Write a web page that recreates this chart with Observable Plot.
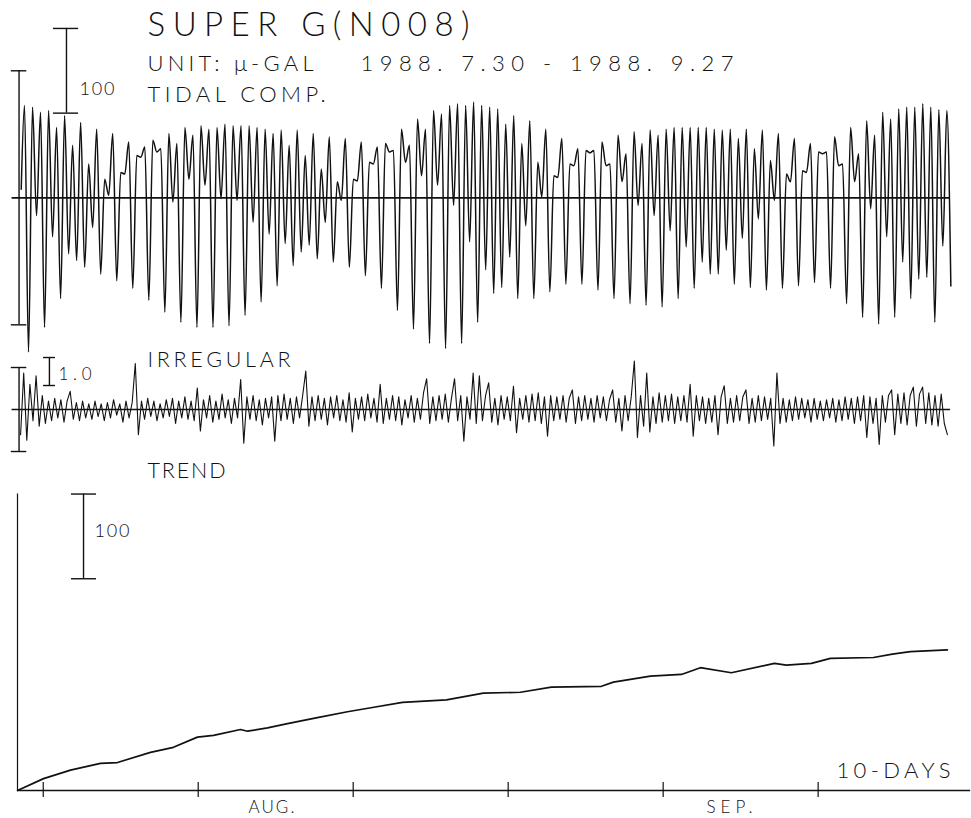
<!DOCTYPE html>
<html>
<head>
<meta charset="utf-8">
<script src="https://cdn.jsdelivr.net/npm/d3@7"></script>
<script src="https://cdn.jsdelivr.net/npm/@observablehq/plot@0.6"></script>
<style>
html, body { margin: 0; padding: 0; background: #fff; }
#chart { position: relative; width: 971px; height: 818px; overflow: hidden; background: #fff; }
#chart svg { position: absolute; left: 0; }
</style>
</head>
<body>
<div id="chart"></div>
<script>
// ---------- DATA ----------
// Tidal component: successive high (peak) and low (trough) values, one pair per semidiurnal cycle (µGal)
const tidePeaks = [
  109, 107, 101, 103, 83, 97, 62, 89, 40, 81,
  22, 76, 30, 66, 50, 60, 68, 58, 76, 64,
  83, 74, 85, 81, 83, 87, 85, 85, 85, 83,
  81, 76, 80, 62, 80, 50, 76, 34, 72, 19,
  70, 22, 66, 42, 60, 64, 56, 81, 62, 93,
  81, 103, 99, 109, 111, 109, 113, 109, 107, 105,
  87, 97, 64, 91, 42, 81, 26, 70, 40, 58,
  56, 56, 66, 40, 74, 52, 78, 64, 80, 74,
  81, 83, 83, 83, 83, 83, 81, 80, 81, 70,
  81, 58, 80, 44, 76, 28, 70, 32, 64, 54,
  54, 72, 40, 83, 52, 91, 74, 101, 93, 105,
  107, 107, 111, 107, 104, 103
];
const tideTroughs = [
  -182, -21, -153, -46, -119, -66, -74, -82, -35, -90,
  3, -98, 28, -107, 48, -121, 54, -135, -5, -147,
  22, -153, 15, -153, -1, -151, -3, -139, -29, -123,
  -43, -104, -54, -80, -64, -56, -72, -29, -76, -3,
  -82, 20, -92, 40, -107, 54, -133, 42, -155, 26,
  -172, 15, -178, -9, -172, -52, -147, -85, -113, -106,
  -70, -119, -33, -119, 1, -111, 24, -102, 38, -102,
  53, -109, 38, -119, 19, -125, -9, -127, -21, -129,
  -39, -119, -58, -107, -76, -90, -90, -62, -102, -48,
  -106, -25, -109, -3, -107, 19, -104, 30, -100, 52,
  -107, 38, -125, 19, -141, -13, -149, -46, -141, -76,
  -119, -96, -94, -147, -57, -104
];
const tideStartValue = 10;

// Irregular component (µGal), one value every 0.2 day
const irregularValues = [
  -0.9, 1.3, -1.1, 0.9, -0.4, 1.2, -0.6, 0.5, -0.5, 0.3, -0.4, 0.4, -0.3, 0.35, -0.45, 0.3, 0.65, -0.35, 0.25, -0.4,
  0.3, -0.3, 0.2, -0.35, 0.3, -0.25, 0.2, -0.4, 0.25, -0.3, 0.35, -0.2, 0.2, -0.45, 0.3, -0.3, 0.25, 1.64, -0.9, 0.3,
  -0.35, 0.4, -0.25, 0.3, -0.4, 0.2, -0.3, 0.35, -0.25, 0.4, -0.5, 0.3, -0.3, 0.45, -0.35, 0.3, -0.4, 0.77, -0.77, 0.35,
  -0.3, 0.5, -0.45, 0.3, -0.35, 0.55, -0.3, 0.35, -0.5, 0.4, -0.3, 1.07, -1.2, 0.45, -0.35, 0.5, -0.4, 0.35, -0.55, 0.4,
  -0.3, 0.45, -1.13, 0.5, -0.4, 0.55, -0.35, 0.4, -0.5, 0.45, -0.3, 0.5, 1.37, -0.6, 0.45, -0.4, 0.5, -0.35, 0.4, -0.55,
  0.45, -0.3, 0.5, -0.4, 0.35, -0.45, 0.6, -0.8, 0.4, -0.35, 0.45, -0.4, 0.55, -0.3, 0.4, -0.45, 0.9, -0.5, 0.4, -0.35,
  0.5, -0.4, 0.45, -0.55, 0.35, -0.3, 0.5, -0.45, 0.4, -0.35, 0.6, 1.1, -0.5, 0.45, -0.4, 0.5, -0.35, 0.55, -0.45, 0.4,
  1.1, -0.4, 0.5, -1.13, 0.45, -0.35, 1.3, -0.5, 1.2, -0.4, 0.5, 0.95, -0.45, 0.4, -0.55, 0.5, -0.35, 0.45, -0.4, 0.83,
  -0.83, 0.4, -0.35, 0.5, -0.45, 0.55, -0.4, 0.6, -0.5, 0.45, -0.95, 0.5, -0.4, 0.45, -0.35, 0.5, -0.45, 0.4, 0.7, -0.5,
  0.45, -0.4, 0.5, -0.35, 0.4, -0.45, 0.5, -0.3, 0.45, -0.4, 0.35, 0.7, -0.45, 0.4, -0.77, 0.5, -0.4, 0.45, 1.73, -1.0,
  0.5, -0.6, 1.3, -0.8, 0.45, -0.5, 0.6, -0.45, 0.5, -0.4, 0.55, -0.5, 0.45, -0.4, 0.5, -0.45, 0.9, -0.95, 0.5, -0.4,
  0.45, -0.5, 0.4, -0.45, 0.5, -0.9, 0.45, 0.85, -0.5, 0.4, -0.45, 0.5, -0.4, 0.45, 0.7, -0.5, 0.4, -0.45, 0.5, -0.4,
  0.45, -0.35, 0.4, -1.3, 1.3, -0.5, 0.4, -0.45, 0.35, -0.4, 0.45, -0.35, 0.4, -0.3, 0.35, -0.45, 0.4, -0.35, 0.3, -0.4,
  0.35, -0.3, 0.4, -0.45, 0.35, -0.4, 0.45, -0.35, 0.4, -0.5, 0.45, -0.4, 0.5, -1.0, 0.45, -0.5, 0.4, -1.25, 0.5, -0.45,
  0.5, 0.7, -0.9, 0.55, -0.5, 0.6, -0.55, 0.5, 0.8, -0.6, 0.55, 0.8, -0.5, 0.6, -0.55, 0.5, -0.6, 0.55, -0.5, -0.9
];

// Trend (µGal) at days since the start of the record
const trendDays = [0, 1.68, 3.42, 5.35, 6.45, 8.58, 10.06, 11.61, 12.65, 14.39, 14.84, 16.13, 17.42, 19.35, 21.29,
  22.9, 24.84, 27.68, 30.06, 32.45, 34.45, 37.68, 38.45, 40.84, 42.84, 44.06, 46.06, 48.84, 49.61, 51.23, 52.45,
  55.23, 56.45, 57.61, 60.0];
const trendValues = [0, 14, 24, 32, 33, 45, 51, 63, 65, 72, 70, 74, 79, 86, 93,
  98, 104, 107, 115, 116, 122, 123, 128, 135, 137, 145, 139, 150, 148, 150, 156,
  157, 161, 164, 166];

// Time axis: 10-day tick marks (days since start) and month labels
const tickDays = [1.66, 11.66, 21.66, 31.66, 41.66, 51.66];
const monthLabels = ["AUG.", "SEP."];
const monthDays = [14.9, 44.45];

// ---------- SAMPLING GRID ----------
const M2 = 0.5175;          // semidiurnal cycle length (days)
const firstPeakDay = 0.4516;
const tideStartDay = 0.24;
const irrStartDay = 0.2, irrStep = 0.2;

const tide = [{day: tideStartDay, value: tideStartValue}];
tidePeaks.forEach((p, k) => {
  tide.push({day: firstPeakDay + k * M2, value: p});
  tide.push({day: firstPeakDay + k * M2 + M2 / 2, value: tideTroughs[k]});
});
const irregular = irregularValues.map((v, i) => ({day: irrStartDay + i * irrStep, value: v}));
const trend = trendDays.map((d, i) => ({day: d, value: trendValues[i]}));

// ---------- STYLE ----------
const ink = "#111111";
const FONT = "Lato, 'DejaVu Sans', sans-serif";
const W = 971, ML = 17, MR = 21;
const X_DOMAIN = [0, 60.2];

const panel = (height, yDomain, marks) => Plot.plot({
  width: W, height,
  marginLeft: ML, marginRight: MR, marginTop: 0, marginBottom: 0,
  x: {domain: X_DOMAIN, axis: null},
  y: {domain: yDomain, axis: null},
  style: {background: "transparent", overflow: "visible"},
  marks
});
const label = (rows, fontSize) => Plot.text(rows, {
  x: "day", y: "value", text: "text", textAnchor: "start", lineAnchor: "top",
  fontSize, fontFamily: FONT, fontWeight: 300, fill: ink
});
const bar = {stroke: ink, strokeWidth: 1.4};

// ---------- TIDAL PANEL ----------
const tidal = panel(345, [-174.4, 233], [
  Plot.ruleY([0], {x1: -0.35, x2: 60.2, stroke: ink, strokeWidth: 1.8}),
  Plot.ruleX([0.1], {y1: -150, y2: 150, ...bar}),
  Plot.ruleY([-150, 150], {x1: -0.4, x2: 0.6, ...bar}),
  Plot.ruleX([3.16], {y1: 100, y2: 200, ...bar}),
  Plot.ruleY([100, 200], {x1: 2.32, x2: 3.94, ...bar}),
  Plot.line(tide, {x: "day", y: "value", curve: "monotone-x", stroke: ink, strokeWidth: 1.5}),
  label([{day: 8.39, value: 218.8, text: "SUPER G(N008)"}], 33),
  label([{day: 8.39, value: 168, text: "UNIT: μ-GAL"}, {day: 22.13, value: 168, text: "1988. 7.30 - 1988. 9.27"}], 22),
  label([{day: 8.39, value: 131.4, text: "TIDAL COMP."}], 22),
  label([{day: 4.0, value: 136.2, text: "100"}], 18)
]);

// ---------- IRREGULAR PANEL ----------
const irr = panel(115, [-1.821, 2.286], [
  Plot.ruleY([0], {x1: -0.35, x2: 60.2, stroke: ink, strokeWidth: 1.6}),
  Plot.ruleX([0.1], {y1: -1.5, y2: 1.5, ...bar}),
  Plot.ruleY([-1.5, 1.5], {x1: -0.4, x2: 0.6, ...bar}),
  Plot.ruleX([2.06], {y1: 0.857, y2: 1.857, ...bar}),
  Plot.ruleY([0.857, 1.857], {x1: 1.68, x2: 2.45, ...bar}),
  Plot.line(irregular, {x: "day", y: "value", stroke: ink, strokeWidth: 1.1}),
  label([{day: 8.39, value: 2.072, text: "IRREGULAR"}], 21.5),
  label([{day: 2.65, value: 1.5, text: "1.0"}], 17)
]);

// ---------- TREND PANEL ----------
const tr = panel(358, [-33.06, 389.6], [
  Plot.ruleY([0], {x1: 0, x2: 61.5, stroke: ink, strokeWidth: 1.5}),
  Plot.ruleX([0], {y1: 0, y2: 350, stroke: ink, strokeWidth: 1.2}),
  Plot.ruleX(tickDays, {y1: -8.3, y2: 9.4, stroke: ink, strokeWidth: 1.2}),
  Plot.ruleX([4.26], {y1: 250, y2: 350, ...bar}),
  Plot.ruleY([250, 350], {x1: 3.48, x2: 5.1, ...bar}),
  Plot.line(trend, {x: "day", y: "value", stroke: ink, strokeWidth: 1.7}),
  label([{day: 8.39, value: 387.2, text: "TREND"}], 21.5),
  label([{day: 4.97, value: 314, text: "100"}], 18),
  label([{day: 52.84, value: 33, text: "10-DAYS"}], 22),
  label(monthLabels.map((t, i) => ({day: monthDays[i], value: -11.8, text: t})), 17)
]);

const chart = document.getElementById("chart");
[[tidal, 0], [irr, 345], [tr, 460]].forEach(([svg, top]) => {
  svg.style.top = top + "px";
  chart.appendChild(svg);
});

// Match the plotter lettering widths
const textWidths = new Map([
  ["SUPER G(N008)", 322], ["UNIT: μ-GAL", 166], ["1988. 7.30 - 1988. 9.27", 373],
  ["TIDAL COMP.", 178], ["100", 35], ["IRREGULAR", 143], ["1.0", 33], ["TREND", 78],
  ["10-DAYS", 114], ["AUG.", 46], ["SEP.", 46]
]);
chart.querySelectorAll("text").forEach(t => {
  const w = textWidths.get(t.textContent.trim());
  if (w) { t.setAttribute("textLength", w); t.setAttribute("lengthAdjust", "spacing"); }
});
</script>
</body>
</html>
